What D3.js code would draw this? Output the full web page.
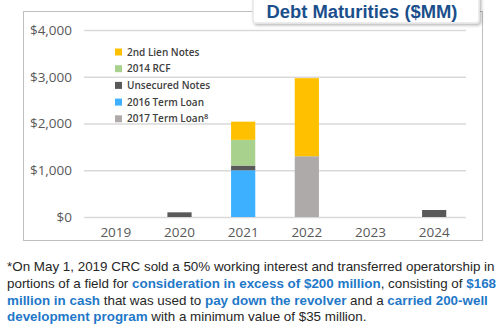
<!DOCTYPE html>
<html>
<head>
<meta charset="utf-8">
<script src="https://cdn.jsdelivr.net/npm/d3@7"></script>
<style>
  html, body { margin: 0; padding: 0; background: #fff; }
  svg { display: block; }
</style>
</head>
<body>
<svg id="chart" width="497" height="324"></svg>
<script>
// Maturity years on the x axis
const years = ["2019", "2020", "2021", "2022", "2023", "2024"];

// Amounts due per instrument, $MM, one value per year
const term2017 = [0, 0, 0, 1300, 0, 0];
const term2016 = [0, 0, 1000, 0, 0, 0];
const unsecured = [0, 100, 100, 0, 0, 150];
const rcf2014 = [0, 0, 550, 0, 0, 0];
const lien2nd = [0, 0, 390, 1670, 0, 0];

// Stack order bottom-to-top, and legend order top-to-bottom
const seriesKeys = ["2017 Term Loan", "2016 Term Loan", "Unsecured Notes", "2014 RCF", "2nd Lien Notes"];
const seriesValues = [term2017, term2016, unsecured, rcf2014, lien2nd];
const seriesColors = ["#AEAAAA", "#3DB0FF", "#595959", "#A9D18E", "#FFC000"];
const legendKeys = ["2nd Lien Notes", "2014 RCF", "Unsecured Notes", "2016 Term Loan", "2017 Term Loan"];

const yTicks = [0, 1000, 2000, 3000, 4000];

const svg = d3.select("#chart");

// Frame around the plot
svg.append("rect")
  .attr("x", 23.5).attr("y", 11.5).attr("width", 459).attr("height", 229)
  .attr("fill", "none").attr("stroke", "#BFBFBF").attr("stroke-width", 1);

const x = d3.scaleBand().domain(years).range([84, 466]).paddingInner(0.62).paddingOuter(0.31);
const y = d3.scaleLinear().domain([0, 4000]).range([217, 30]);

// Gridlines and y tick labels
const yAxis = d3.axisLeft(y).tickValues(yTicks).tickSize(-(466 - 84)).tickPadding(12)
  .tickFormat(d => "$" + d3.format(",")(d));
const gy = svg.append("g").attr("transform", "translate(84,0)").call(yAxis);
gy.select(".domain").remove();
gy.selectAll(".tick line").attr("stroke", "#D9D9D9").attr("stroke-width", 1.5);
gy.selectAll(".tick text")
  .attr("fill", "#595959").attr("font-family", "Open Sans, sans-serif").attr("font-size", 13.5);

// Stacked bars
const rows = years.map((yr, i) => {
  const r = { year: yr };
  seriesKeys.forEach((k, j) => { r[k] = seriesValues[j][i]; });
  return r;
});
const stacked = d3.stack().keys(seriesKeys)(rows);
const color = d3.scaleOrdinal().domain(seriesKeys).range(seriesColors);

svg.append("g").selectAll("g")
  .data(stacked).join("g")
  .attr("fill", d => color(d.key))
  .selectAll("rect")
  .data(d => d.filter(p => p[1] - p[0] > 0))
  .join("rect")
  .attr("x", d => x(d.data.year))
  .attr("width", x.bandwidth())
  .attr("y", d => y(d[1]))
  .attr("height", d => y(d[0]) - y(d[1]));

// x axis labels
const xAxis = d3.axisBottom(x).tickSize(0).tickPadding(10);
const gx = svg.append("g").attr("transform", "translate(0,217)").call(xAxis);
gx.select(".domain").remove();
gx.selectAll(".tick text")
  .attr("fill", "#595959").attr("font-family", "Open Sans, sans-serif").attr("font-size", 13.5);

// Legend
const legend = svg.append("g").attr("transform", "translate(115,52)");
const li = legend.selectAll("g").data(legendKeys).join("g")
  .attr("transform", (d, i) => `translate(0,${i * 16.7})`);
li.append("rect").attr("x", 0).attr("y", -3.5).attr("width", 7).attr("height", 7)
  .attr("fill", d => color(d));
const lt = li.append("text").attr("x", 12).attr("y", 0).attr("dy", "0.35em")
  .attr("fill", "#404040").attr("font-family", "Open Sans, sans-serif")
  .attr("font-size", 10).attr("font-weight", 600)
  .text(d => d);
lt.filter(d => d === "2017 Term Loan").append("tspan")
  .attr("dy", "-0.45em").attr("font-size", 7.5).text("8");

// Title tab
const defs = svg.append("defs");
const f = defs.append("filter").attr("id", "tabShadow").attr("x", "-10%").attr("y", "-30%").attr("width", "120%").attr("height", "170%");
f.append("feDropShadow").attr("dx", 1.5).attr("dy", 1.5).attr("stdDeviation", 1.5).attr("flood-color", "#000").attr("flood-opacity", 0.3);
svg.append("rect")
  .attr("x", 253).attr("y", -4).attr("width", 226).attr("height", 27).attr("rx", 3)
  .attr("fill", "#fff").attr("stroke", "#E6E6E6").attr("stroke-width", 1.5)
  .attr("filter", "url(#tabShadow)");
svg.append("text")
  .attr("x", 362).attr("y", 17.5).attr("text-anchor", "middle")
  .attr("fill", "#1B4F8C").attr("font-family", "Liberation Sans, Arial, sans-serif")
  .attr("font-weight", 700).attr("font-size", 18)
  .attr("textLength", 191).attr("lengthAdjust", "spacingAndGlyphs")
  .text("Debt Maturities ($MM)");

// Footnote with highlighted phrases
const noteLines = [
  [["*On May 1, 2019 CRC sold a 50% working interest and transferred operatorship in", false]],
  [["portions of a field for ", false], ["consideration in excess of $200 million", true], [", consisting of ", false], ["$168", true]],
  [["million in cash", true], [" that was used to ", false], ["pay down the revolver", true], [" and a ", false], ["carried 200-well", true]],
  [["development program", true], [" with a minimum value of $35 million.", false]]
];
const noteY = [271, 288, 305, 321];
noteLines.forEach((segs, i) => {
  const t = svg.append("text")
    .attr("x", 7).attr("y", noteY[i])
    .attr("font-family", "Liberation Sans, Arial, sans-serif").attr("font-size", 13.4)
    .attr("fill", "#262626");
  segs.forEach(([s, hi]) => {
    t.append("tspan")
      .attr("fill", hi ? "#1F78C8" : "#262626")
      .attr("font-weight", hi ? 700 : 400)
      .text(s);
  });
});
</script>
</body>
</html>
